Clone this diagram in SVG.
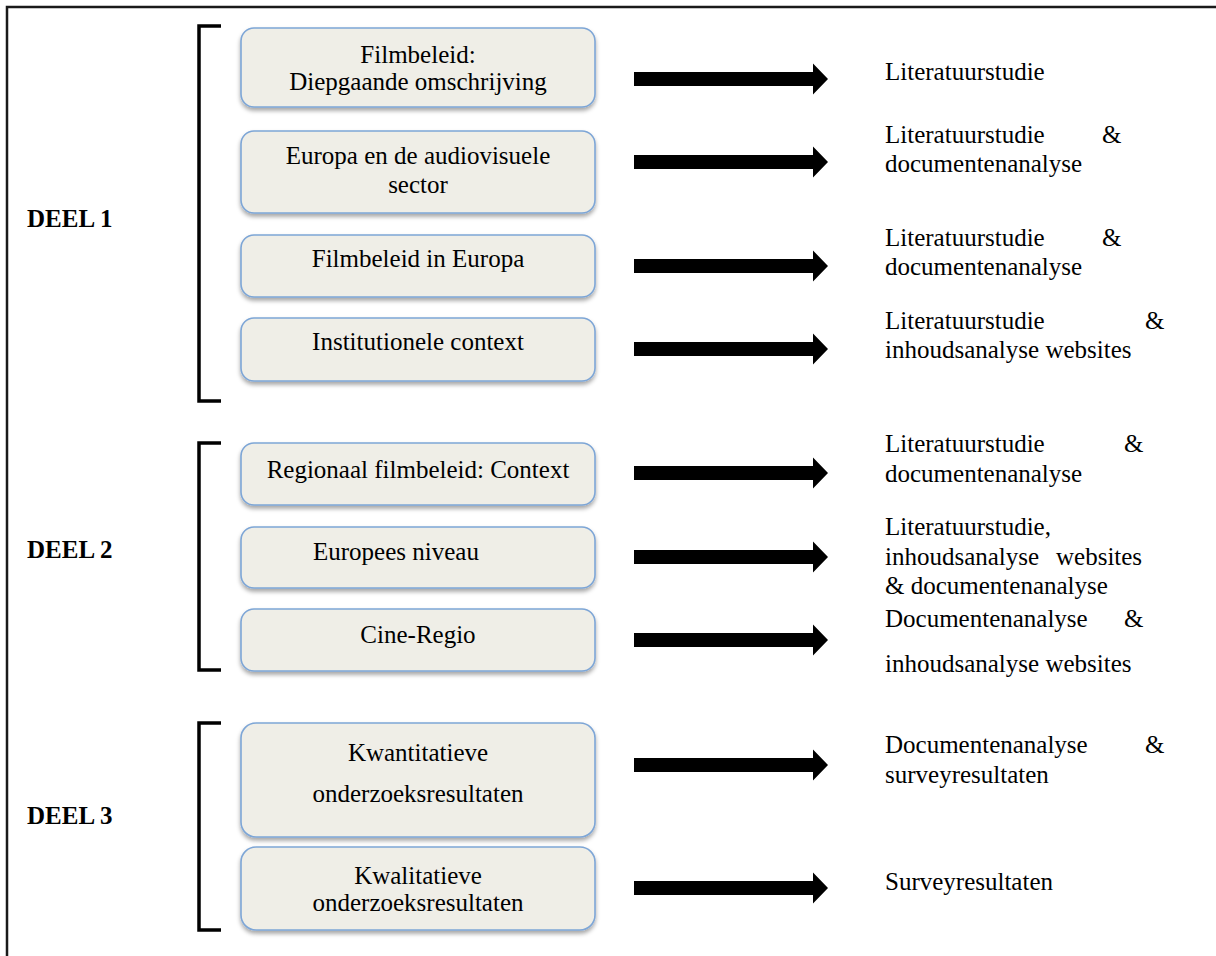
<svg xmlns="http://www.w3.org/2000/svg" xmlns:xlink="http://www.w3.org/1999/xlink" width="1216" height="956" viewBox="0 0 1216 956">
<style>
  .box { fill: #EFEEE7; stroke: #7EA6D6; stroke-width: 1.6; filter: url(#sh); }
  .t { font-family: "Liberation Serif", "Times New Roman", serif; font-size: 25px; fill: #000; }
  .c { text-anchor: middle; }
  .deel { font-family: "Liberation Serif", "Times New Roman", serif; font-size: 25px; font-weight: bold; fill: #000; }
  .br { fill: none; stroke: #000; stroke-width: 3.5; }
</style>
<defs>
  <filter id="sh" x="-10%" y="-20%" width="120%" height="150%">
    <feDropShadow dx="0" dy="3" stdDeviation="2" flood-color="#000" flood-opacity="0.35"/>
  </filter>
  <path id="arrow" d="M634,-7 H813 V-15.5 L828,0 L813,15.5 V7 H634 Z" fill="#000"/>
</defs>
<rect width="1216" height="956" fill="#fff"/>
<path d="M7,956 V7 H1216" fill="none" stroke="#1a1a1a" stroke-width="2.5"/>

<g id="labels">
  <text class="deel" x="27" y="227">DEEL 1</text>
  <text class="deel" x="27" y="558">DEEL 2</text>
  <text class="deel" x="27" y="824">DEEL 3</text>
</g>

<g id="brackets">
  <path class="br" d="M221,26 H199 V401 H221"/>
  <path class="br" d="M221,443 H199 V670 H221"/>
  <path class="br" d="M221,723 H199 V930 H221"/>
</g>

<g id="n1"><rect class="box" x="241" y="28" width="354" height="79" rx="13"/>
  <text class="t c" x="418" y="63">Filmbeleid:</text>
  <text class="t c" x="418" y="90">Diepgaande omschrijving</text></g>
<g id="n2"><rect class="box" x="241" y="131" width="354" height="82" rx="13"/>
  <text class="t c" x="418" y="164">Europa en de audiovisuele</text>
  <text class="t c" x="418" y="193">sector</text></g>
<g id="n3"><rect class="box" x="241" y="235" width="354" height="62" rx="13"/>
  <text class="t c" x="418" y="267">Filmbeleid in Europa</text></g>
<g id="n4"><rect class="box" x="241" y="318" width="354" height="63" rx="13"/>
  <text class="t c" x="418" y="350">Institutionele context</text></g>
<g id="n5"><rect class="box" x="241" y="443" width="354" height="62" rx="13"/>
  <text class="t c" x="418" y="478">Regionaal filmbeleid: Context</text></g>
<g id="n6"><rect class="box" x="241" y="527" width="354" height="61" rx="13"/>
  <text class="t" x="313" y="560">Europees niveau</text></g>
<g id="n7"><rect class="box" x="241" y="609" width="354" height="62" rx="13"/>
  <text class="t c" x="418" y="643">Cine-Regio</text></g>
<g id="n8"><rect class="box" x="241" y="723" width="354" height="114" rx="15"/>
  <text class="t c" x="418" y="761">Kwantitatieve</text>
  <text class="t c" x="418" y="802">onderzoeksresultaten</text></g>
<g id="n9"><rect class="box" x="241" y="847" width="354" height="83" rx="15"/>
  <text class="t c" x="418" y="884">Kwalitatieve</text>
  <text class="t c" x="418" y="911">onderzoeksresultaten</text></g>

<g id="connectors">
  <use xlink:href="#arrow" y="79"/>
  <use xlink:href="#arrow" y="162"/>
  <use xlink:href="#arrow" y="266"/>
  <use xlink:href="#arrow" y="349"/>
  <use xlink:href="#arrow" y="473"/>
  <use xlink:href="#arrow" y="557"/>
  <use xlink:href="#arrow" y="640"/>
  <use xlink:href="#arrow" y="765"/>
  <use xlink:href="#arrow" y="888"/>
</g>

<g id="methods">
  <text class="t" x="885" y="80">Literatuurstudie</text>

  <text class="t" x="885" y="143">Literatuurstudie<tspan x="1102">&amp;</tspan></text>
  <text class="t" x="885" y="172">documentenanalyse</text>

  <text class="t" x="885" y="246">Literatuurstudie<tspan x="1102">&amp;</tspan></text>
  <text class="t" x="885" y="275">documentenanalyse</text>

  <text class="t" x="885" y="329">Literatuurstudie<tspan x="1145">&amp;</tspan></text>
  <text class="t" x="885" y="358">inhoudsanalyse websites</text>

  <text class="t" x="885" y="452">Literatuurstudie<tspan x="1124">&amp;</tspan></text>
  <text class="t" x="885" y="482">documentenanalyse</text>

  <text class="t" x="885" y="535">Literatuurstudie,</text>
  <text class="t" x="885" y="565">inhoudsanalyse<tspan x="1056">websites</tspan></text>
  <text class="t" x="885" y="594">&amp; documentenanalyse</text>

  <text class="t" x="885" y="627">Documentenanalyse<tspan x="1124">&amp;</tspan></text>
  <text class="t" x="885" y="672">inhoudsanalyse websites</text>

  <text class="t" x="885" y="753">Documentenanalyse<tspan x="1145">&amp;</tspan></text>
  <text class="t" x="885" y="783">surveyresultaten</text>

  <text class="t" x="885" y="890">Surveyresultaten</text>
</g>
</svg>
